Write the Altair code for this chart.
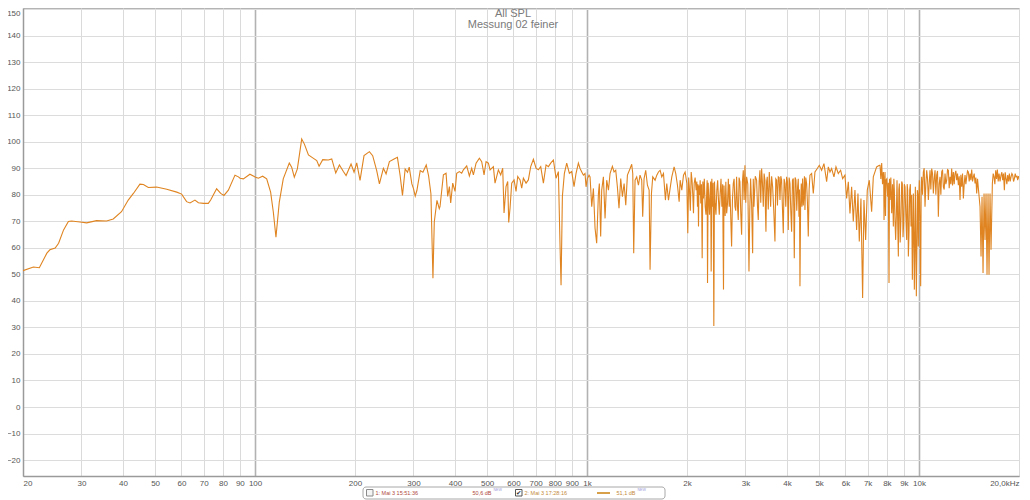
import altair as alt
import pandas as pd

band_20_90 = [
    (20.0, 51.4), (21.5, 52.75), (22.4, 52.5), (23.6, 58.0), (24.1, 59.25), (25.0, 59.9),
    (25.6, 61.75), (26.5, 66.75), (27.4, 69.9), (28.0, 70.1), (29.7, 69.75), (31.1, 69.4),
    (33.3, 70.25), (35.7, 70.1), (37.4, 70.9), (39.6, 73.6), (41.5, 78.0), (43.0, 80.5),
    (45.0, 84.0), (46.1, 83.9), (47.7, 82.75), (50.5, 82.9), (54.2, 82.1), (58.1, 81.0),
    (60.1, 80.25), (62.2, 77.4), (63.7, 76.9), (65.9, 78.0), (67.5, 77.0), (69.9, 76.75),
    (72.3, 76.75), (73.5, 78.0), (76.6, 82.25), (78.8, 80.5), (80.6, 79.75), (83.1, 81.75),
    (87.0, 87.4), (89.1, 86.75),
]
band_90_360 = [
    (90.1, 86.25), (92.2, 86.0), (96.5, 87.75), (100.4, 86.6), (102.3, 86.25), (105.4, 87.0),
    (108.4, 86.0), (111.4, 81.0), (113.5, 73.5), (115.6, 64.0), (118.3, 77.25), (121.6, 86.0),
    (126.8, 92.0), (128.9, 90.4), (131.3, 86.6), (134.1, 89.75), (138.2, 101.0), (140.8, 99.1),
    (144.8, 95.0), (149.2, 93.9), (153.4, 92.9), (155.9, 90.75), (159.9, 93.25), (166.3, 93.1),
    (170.2, 93.5), (175.0, 88.25), (179.5, 91.25), (184.5, 88.75), (188.0, 87.25), (194.6, 91.6),
    (198.7, 88.5), (202.4, 92.0), (207.1, 85.4), (212.9, 94.75), (221.0, 96.25), (226.1, 94.75),
    (232.5, 89.1), (236.9, 84.1), (243.5, 90.0), (248.1, 87.9), (253.9, 92.5), (262.3, 93.5),
    (268.4, 94.1), (273.5, 87.25), (278.0, 79.75), (283.2, 89.75), (287.9, 88.5), (291.3, 90.4),
    (296.7, 84.1), (300.2, 82.25), (303.7, 79.5), (307.2, 81.6), (314.4, 89.1), (320.3, 88.5),
    (327.8, 91.25), (333.1, 87.25), (338.6, 80.4), (343.4, 48.5), (346.6, 69.75), (353.1, 77.9),
    (358.8, 74.75),
]
band_360_950 = [
    (360.7, 75.6), (369.2, 87.5), (376.1, 88.1), (380.4, 79.4), (384.9, 83.1), (388.4, 76.9),
    (393.9, 84.4), (400.3, 81.25), (404.9, 88.1), (412.5, 88.75), (419.2, 88.1), (424.1, 89.4),
    (434.0, 90.9), (442.1, 87.1), (449.3, 90.0), (454.6, 87.5), (463.1, 91.9), (473.9, 93.75),
    (481.6, 92.5), (489.5, 87.5), (496.3, 92.5), (504.4, 91.9), (510.3, 89.4), (522.2, 90.6),
    (528.2, 84.4), (540.6, 89.4), (549.4, 87.5), (557.1, 90.0), (562.3, 73.1), (570.1, 83.1),
    (576.8, 85.0), (580.8, 69.6), (586.2, 75.0), (593.0, 84.4), (602.7, 85.6), (611.1, 81.25),
    (618.2, 86.9), (628.3, 85.6), (635.6, 82.5), (643.0, 86.25), (655.0, 84.4), (665.6, 85.6),
    (676.5, 90.6), (689.2, 93.4), (702.0, 90.0), (713.5, 89.4), (725.2, 90.6), (738.7, 84.4),
    (752.5, 91.25), (764.8, 90.6), (777.2, 91.9), (791.7, 93.1), (806.5, 86.25), (819.7, 88.75),
    (829.2, 60.6), (835.0, 45.9), (842.7, 79.4), (854.5, 88.1), (868.4, 91.9), (884.6, 88.1),
    (899.1, 88.75), (913.7, 83.1), (926.5, 88.1), (941.6, 91.9),
]
band_950_2700 = [
    (952.6, 89.9), (964, 88.6), (975, 87.4), (986, 88.0), (993, 83.0), (1002, 86.1),
    (1014, 87.4), (1021, 86.75), (1033, 75.5), (1045, 82.4), (1057, 67.4), (1069, 61.75),
    (1082, 80.5), (1089, 84.25), (1099, 64.25), (1107, 81.75), (1120, 86.75), (1133, 71.1),
    (1146, 85.5), (1160, 81.75), (1173, 88.0), (1192, 90.75), (1206, 88.6), (1220, 89.25),
    (1234, 83.0), (1248, 74.9), (1263, 86.1), (1278, 79.25), (1293, 84.25), (1308, 76.1),
    (1323, 87.4), (1348, 89.9), (1363, 91.5), (1373, 88.0), (1382, 58.0), (1395, 85.5),
    (1411, 86.75), (1428, 83.6), (1444, 87.4), (1461, 85.5), (1471, 71.75), (1485, 86.1),
    (1502, 89.25), (1520, 83.6), (1538, 81.75), (1548, 51.75), (1563, 80.5), (1577, 86.75),
    (1603, 85.5), (1622, 87.4), (1641, 88.6), (1660, 89.25), (1679, 86.75), (1699, 88.0),
    (1722, 78.0), (1738, 84.25), (1759, 78.0), (1779, 82.4), (1800, 86.75), (1829, 90.5),
    (1850, 88.0), (1872, 83.6), (1894, 77.4), (1907, 85.5), (1929, 81.75), (1952, 87.4),
    (1974, 88.6), (1998, 84.25), (2011, 65.5), (2035, 81.75), (2059, 88.6), (2083, 79.25),
    (2102, 84.25), (2131, 81.75), (2151, 75.5), (2166, 68.0), (2181, 79.9), (2201, 76.75),
    (2222, 56.1), (2242, 78.6), (2269, 75.5), (2295, 82.4), (2306, 46.75), (2327, 78.0),
    (2349, 81.75), (2365, 51.1), (2387, 75.5), (2409, 30.5), (2431, 76.75), (2460, 81.75),
    (2488, 78.0), (2517, 80.5), (2547, 75.5), (2576, 44.25), (2594, 78.0), (2618, 84.9),
    (2649, 76.75), (2680, 75.5), (2698, 79.25),
]
band_2000_2700_fill = [
    (2023, 86.5), (2047, 74.0), (2071, 85.5), (2092, 73.0), (2116, 86.5), (2141, 85.0),
    (2158, 84.0), (2173, 83.5), (2191, 85.5), (2211, 84.0), (2232, 85.0), (2255, 86.0),
    (2282, 72.5), (2300, 85.5), (2316, 84.5), (2338, 72.5), (2357, 85.0), (2376, 86.0),
    (2398, 84.5), (2420, 85.0), (2445, 72.5), (2474, 85.5), (2502, 72.5), (2532, 86.0),
    (2561, 84.0), (2585, 83.5), (2606, 72.0), (2633, 73.0), (2664, 86.0), (2689, 84.0),
]
band_2700_7600 = [
    (2725, 60.5), (2757, 84.25), (2789, 75.5), (2821, 86.75), (2854, 70.5), (2887, 84.9),
    (2921, 64.9), (2955, 89.25), (2989, 91.1), (3024, 86.75), (3074, 51.1), (3109, 86.1),
    (3153, 58.0), (3182, 75.5), (3241, 85.5), (3279, 70.5), (3317, 89.25), (3356, 89.9),
    (3395, 75.5), (3434, 85.5), (3458, 66.1), (3490, 86.75), (3539, 88.6), (3572, 75.5),
    (3622, 83.0), (3681, 62.4), (3724, 85.5), (3767, 86.75), (3811, 78.0), (3855, 85.5),
    (3900, 65.5), (3945, 84.25), (3991, 86.75), (4037, 66.75), (4085, 84.25), (4132, 66.1),
    (4180, 86.1), (4209, 56.1), (4258, 85.5), (4307, 83.0), (4348, 71.75), (4378, 45.5),
    (4418, 84.25), (4459, 86.1), (4501, 80.5), (4532, 74.25), (4585, 84.25), (4638, 64.25),
    (4692, 87.4), (4747, 88.0), (4802, 80.5), (4858, 88.6), (4937, 89.9), (5006, 91.1),
    (5088, 89.25), (5171, 91.75), (5268, 84.9), (5329, 90.5), (5391, 88.6), (5453, 89.9),
    (5542, 86.75), (5620, 90.5), (5711, 88.0), (5804, 89.25), (5886, 86.1), (5981, 87.4),
    (6051, 78.6), (6122, 84.9), (6193, 73.0), (6265, 83.0), (6337, 69.9), (6411, 81.75),
    (6486, 66.75), (6546, 80.5), (6607, 62.4), (6683, 78.6), (6761, 41.1), (6824, 78.0),
    (6904, 63.0), (6983, 81.75), (7081, 85.5), (7197, 73.6), (7281, 86.75), (7451, 90.5),
    (7590, 91.1),
]
band_2700_4700_fill = [
    (2741, 78.0), (2773, 86.0), (2805, 74.0), (2837, 76.0), (2870, 86.5), (2904, 73.0),
    (2938, 85.0), (2972, 78.0), (3006, 77.0), (3049, 84.0), (3091, 74.0), (3131, 76.5),
    (3167, 86.0), (3211, 87.0), (3260, 76.0), (3298, 85.0), (3336, 77.0), (3375, 84.5),
    (3414, 88.0), (3446, 74.0), (3474, 85.0), (3514, 74.5), (3555, 84.0), (3597, 87.0),
    (3651, 74.0), (3702, 86.0), (3745, 76.0), (3789, 86.5), (3833, 87.0), (3877, 75.0),
    (3922, 86.0), (3968, 75.5), (4014, 85.0), (4061, 86.5), (4108, 74.0), (4156, 85.5),
    (4194, 75.0), (4233, 86.5), (4282, 74.0), (4327, 86.0), (4363, 82.0), (4398, 76.0),
    (4438, 75.5), (4480, 76.0), (4516, 87.0), (4558, 86.5), (4611, 77.0), (4665, 82.0),
]
band_7600_20000 = [
    (7628, 91.1), (7717, 92.0), (7807, 88.6), (7843, 70.5), (7897, 88.6), (7952, 85.5),
    (8044, 79.25), (8119, 46.75), (8176, 78.0), (8271, 73.0), (8367, 68.0), (8425, 81.75),
    (8503, 63.0), (8582, 85.5), (8662, 56.75), (8722, 84.25), (8824, 71.75), (8906, 84.25),
    (8988, 69.25), (9072, 83.0), (9177, 63.0), (9242, 81.75), (9285, 56.75), (9371, 81.75),
    (9458, 68.0), (9545, 48.0), (9612, 80.5), (9679, 44.25), (9746, 83.0), (9814, 41.75),
    (9882, 81.75), (9950, 60.5), (10020, 85.5), (10113, 45.5), (10184, 86.75), (10302, 88.6),
    (10422, 75.5), (10544, 89.25), (10666, 78.0), (10790, 89.25), (10916, 89.9), (11043, 80.5),
    (11171, 89.25), (11300, 87.4), (11432, 71.75), (11565, 86.75), (11700, 88.6), (11836, 83.0),
    (11973, 88.0), (12113, 85.5), (12254, 89.25), (12396, 86.75), (12540, 89.9), (12686, 88.6),
    (12834, 88.0), (12982, 85.5), (13133, 83.6), (13287, 78.0), (13441, 83.0), (13598, 78.6),
    (13755, 87.4), (13915, 86.75), (14077, 88.6), (14241, 88.0), (14407, 89.5), (14575, 86.75),
    (14743, 84.25), (14915, 80.5), (15089, 82.4), (15264, 75.5), (15370, 56.75), (15477, 79.25),
    (15585, 50.5), (15693, 80.5), (15802, 63.0), (15912, 80.5), (16022, 49.9), (16134, 80.5),
    (16246, 49.9), (16359, 80.5), (16473, 59.25), (16627, 84.25), (16820, 86.75), (17016, 89.25),
    (17214, 89.5), (17414, 88.0), (17657, 87.4), (17861, 85.5), (18069, 81.75), (18280, 86.1),
    (18492, 87.4), (18708, 88.0), (18925, 86.75), (19146, 87.4), (19368, 86.1), (19594, 86.75),
    (19821, 85.5), (20000, 86.1),
]
band_7600_15000_fill = [
    (7672, 86.0), (7762, 84.0), (7825, 87.0), (7870, 80.0), (7925, 72.0), (7998, 86.0),
    (8081, 84.5), (8147, 86.0), (8223, 86.5), (8319, 84.0), (8396, 86.0), (8464, 70.0),
    (8542, 72.0), (8622, 70.0), (8692, 82.0), (8773, 62.0), (8865, 85.0), (8947, 64.0),
    (9030, 84.0), (9124, 72.0), (9209, 84.0), (9263, 70.0), (9328, 66.0), (9414, 84.0),
    (9501, 80.0), (9578, 62.0), (9645, 66.0), (9712, 60.0), (9780, 62.0), (9848, 58.0),
    (9916, 80.0), (9985, 78.0), (10066, 70.0), (10148, 82.0), (10243, 80.0), (10362, 90.0),
    (10483, 84.0), (10605, 86.0), (10728, 84.0), (10853, 82.0), (10980, 88.0), (11107, 86.0),
    (11235, 80.0), (11366, 89.0), (11498, 84.0), (11632, 80.0), (11768, 89.5), (11904, 82.0),
    (12043, 84.0), (12183, 89.5), (12325, 82.5), (12468, 84.0), (12613, 83.5), (12760, 84.0),
    (12908, 89.0), (13057, 88.0), (13210, 87.0), (13364, 87.5), (13519, 88.0), (13676, 84.0),
    (13835, 84.0), (13996, 89.0), (14159, 85.0), (14324, 85.5), (14491, 85.0), (14659, 88.0),
    (14829, 86.5), (15002, 86.0),
]
band_16600_20000_fill = [
    (16723, 88.0), (16918, 84.0), (17115, 86.0), (17314, 85.0), (17535, 85.0), (17759, 88.5),
    (17965, 88.0), (18174, 88.5), (18386, 84.0), (18600, 85.0), (18816, 85.0), (19035, 88.0),
    (19257, 85.0), (19481, 88.0), (19707, 87.0), (19910, 87.0),
]

x_tick_values = [20, 30, 40, 50, 60, 70, 80, 90, 100, 200, 300, 400, 500, 600, 700, 800, 900,
                 1000, 2000, 3000, 4000, 5000, 6000, 7000, 8000, 9000, 10000, 20000]
y_tick_values = [-20, -10, 0, 10, 20, 30, 40, 50, 60, 70, 80, 90, 100, 110, 120, 130, 140, 150]

chart_title = "All SPL"
chart_subtitle = "Messung 02 feiner"
legend_1 = "1: Mai 3 15:51:36"
legend_1_level = "50,6 dB"
legend_2 = "2: Mai 3 17:28:16"
legend_2_level = "51,1 dB"
legend_tag = "NEW"

rows = (band_20_90 + band_90_360 + band_360_950 + band_950_2700 + band_2000_2700_fill
        + band_2700_7600 + band_2700_4700_fill + band_7600_20000 + band_7600_15000_fill
        + band_16600_20000_fill)
df = pd.DataFrame(rows, columns=["Frequenz", "SPL"]).sort_values("Frequenz").reset_index(drop=True)
one = pd.DataFrame({"k": [0]})

FONT = "Liberation Sans"
major = "datum.value == 100 || datum.value == 1000 || datum.value == 10000"

xscale = alt.Scale(type="log", domain=[20, 20000], nice=False)
yscale = alt.Scale(domain=[-26, 150.4], nice=False, zero=False)

curve = alt.Chart(df).mark_line(color="#DF8420", strokeWidth=1.1, clip=True).encode(
    x=alt.X("Frequenz:Q", scale=xscale, sort=None, axis=alt.Axis(
        values=x_tick_values, title=None, grid=True,
        gridColor={"condition": {"test": major, "value": "#b2b2b2"}, "value": "#dadada"},
        gridWidth={"condition": {"test": major, "value": 1.6}, "value": 1},
        labelExpr="datum.value >= 20000 ? '20,0kHz' : (datum.value >= 1000 ? (datum.value / 1000) + 'k' : datum.value + '')",
        labelFont=FONT, labelFontSize=8, labelColor="#555555", ticks=False, labelPadding=3,
        labelFlush=True, labelOverlap=False, domainColor="#9a9a9a", domainWidth=1.5)),
    y=alt.Y("SPL:Q", scale=yscale, axis=alt.Axis(
        values=y_tick_values, title=None, grid=True, gridColor="#dcdcdc", gridWidth=1,
        labelFont=FONT, labelFontSize=8, labelColor="#555555", ticks=False, labelPadding=3,
        labelFlush=2, labelOverlap=False, domainColor="#9a9a9a", domainWidth=1.5)),
    order="Frequenz:Q",
)

def text(t, x, y, size=11, color="#7a7a7a", align="center", baseline="middle", font=FONT, weight="normal"):
    return alt.Chart(one).mark_text(text=t, fontSize=size, color=color, align=align,
                                    baseline=baseline, font=font, fontWeight=weight).encode(
        x=alt.value(x), y=alt.value(y))

def box(x, x2, y, y2, stroke="#9a9a9a", fill="white", radius=0, sw=1):
    return alt.Chart(one).mark_rect(stroke=stroke, fill=fill, cornerRadius=radius, strokeWidth=sw).encode(
        x=alt.value(x), x2=alt.value(x2), y=alt.value(y), y2=alt.value(y2))

title1 = text(chart_title, 490, 5.5, size=11)
title2 = text(chart_subtitle, 490, 17, size=11)

leg_box = box(340, 642, 479, 491, stroke="#a8a8a8", radius=3)
cb1 = box(343.5, 350, 481.5, 488, stroke="#8a8a8a", fill="#f4f4f4")
lt1 = text(legend_1, 352.5, 485, size=5.5, color="#b0473c", align="left")
lv1 = text(legend_1_level, 468.5, 485, size=5.5, color="#b0473c", align="right")
ln1 = text(legend_tag, 470.5, 482, size=3.6, color="#9a9ad8", align="left")
cb2 = box(492.5, 499, 481.5, 488, stroke="#555555", fill="white")
ck2 = text("✔", 495.8, 485, size=6.5, color="#333333", font="DejaVu Sans")
lt2 = text(legend_2, 501.5, 485, size=5.5, color="#c48a3a", align="left")
sample = alt.Chart(one).mark_rule(color="#d8a048", strokeWidth=2).encode(
    x=alt.value(574), x2=alt.value(587), y=alt.value(485))
lv2 = text(legend_2_level, 612.5, 485, size=5.5, color="#c48a3a", align="left" if False else "right")
ln2 = text(legend_tag, 614.5, 482, size=3.6, color="#9a9ad8", align="left")

chart = alt.layer(
    curve, title1, title2, leg_box, cb1, lt1, lv1, ln1, cb2, ck2, lt2, sample, lv2, ln2
).properties(
    width=996, height=468,
    padding={"left": 15, "top": 0, "right": 2, "bottom": 24},
    autosize=alt.AutoSizeParams(type="none"),
).configure_view(stroke="#b4b4b4", strokeWidth=1)

chart.save("out.html", embed_options={"renderer": "svg", "actions": False})
